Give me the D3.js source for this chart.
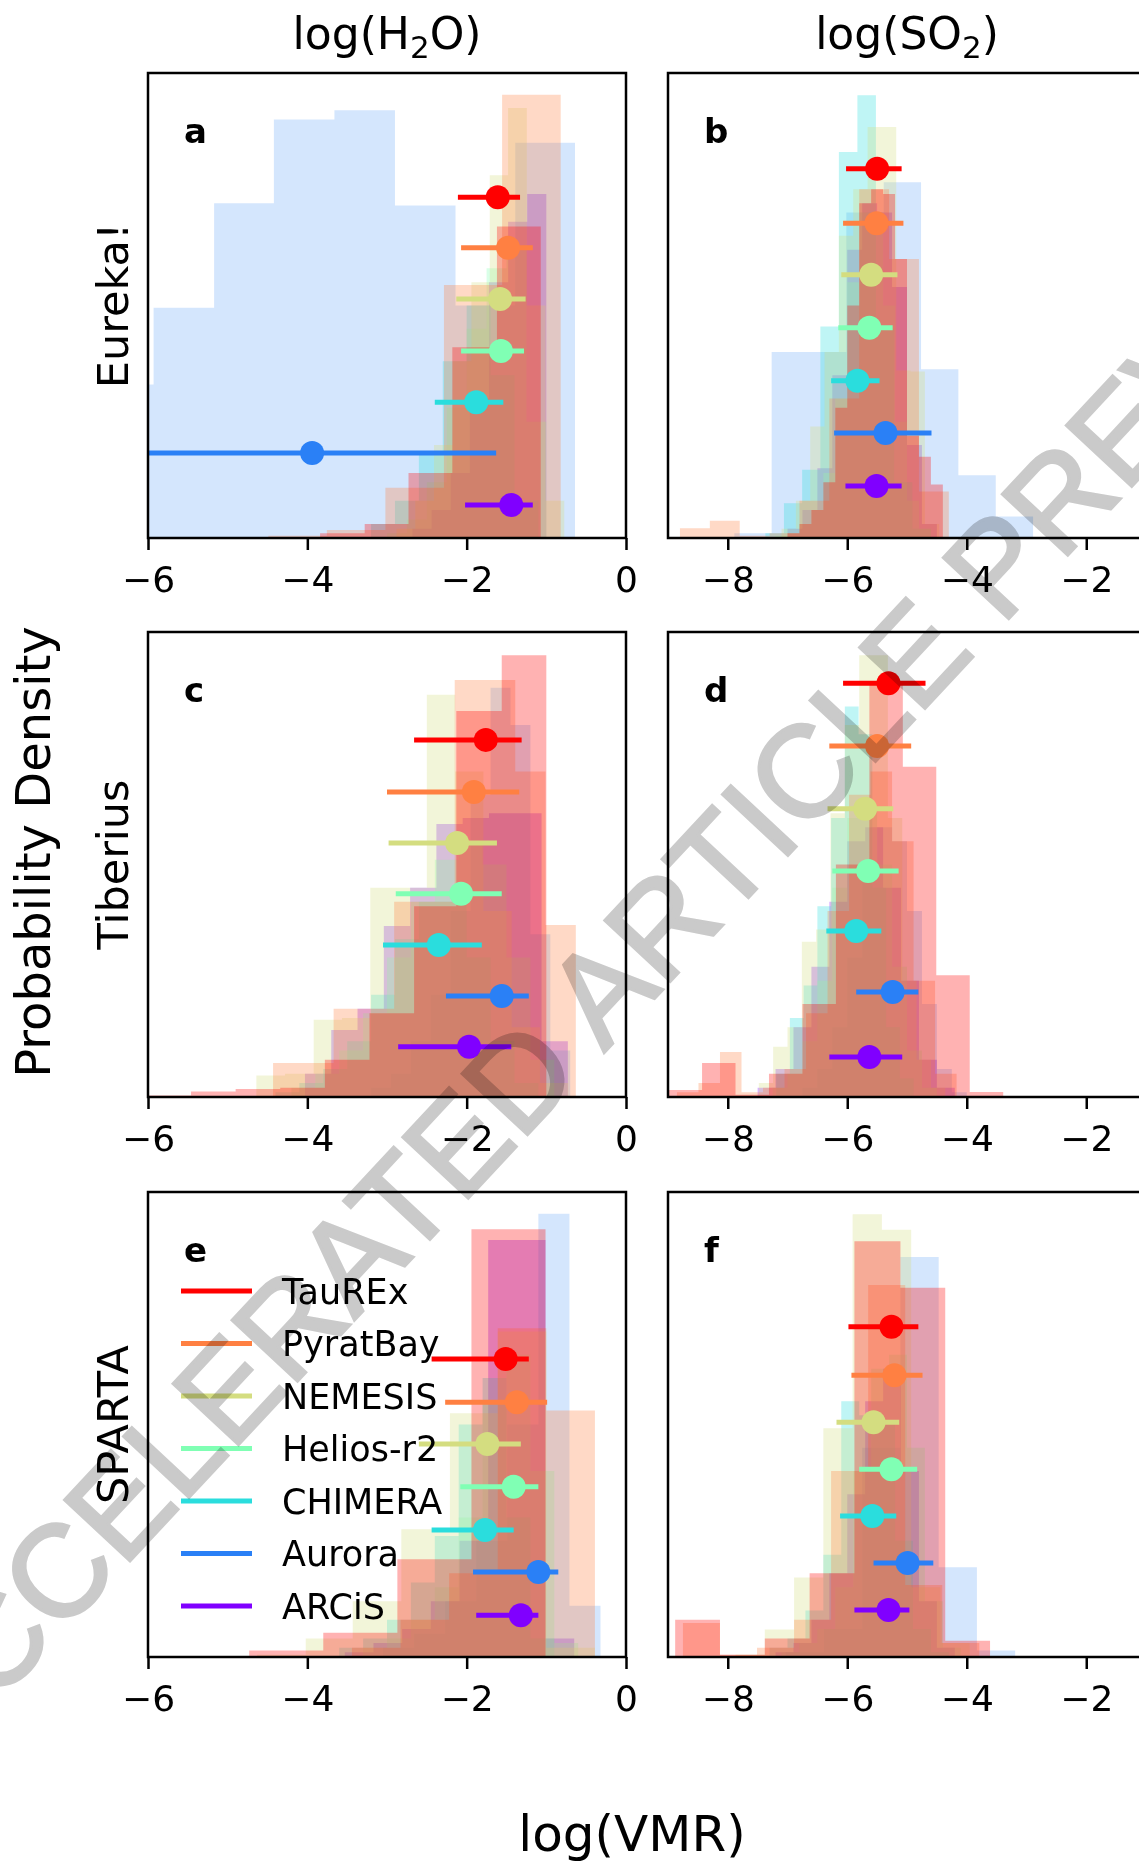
<!DOCTYPE html>
<html>
<head>
<meta charset="utf-8">
<script src="https://cdn.jsdelivr.net/npm/d3@7"></script>
<style>
  body { margin: 0; background: #fff; }
</style>
</head>
<body>
<div id="chart"></div>
<script>
// retrievals, drawn as histograms + median/1-sigma error bars
var retrievals = ["TauREx", "PyratBay", "NEMESIS", "Helios-r2", "CHIMERA", "Aurora", "ARCiS"];
var colors = ["#ff0000", "#ff8042", "#d4dd80", "#80ffb4", "#2adddd", "#2a80f6", "#8000ff"];
var histAlpha = [0.3, 0.3, 0.3, 0.3, 0.3, 0.2, 0.3];
var reductions = ["Eureka!", "Tiberius", "SPARTA"];
var letters = ["a", "b", "c", "d", "e", "f"];
var h2oTicks = [-6, -4, -2, 0];
var so2Ticks = [-8, -6, -4, -2];

// ---- panel a : H2O, Eureka! ----
var edgesA = [
  [-3.84, -3.28, -2.73, -2.18, -1.62, -1.07],
  [-4.49, -3.755, -3.02, -2.285, -1.555, -0.82],
  [-2.88, -2.645, -2.41, -2.175, -1.94, -1.71, -1.48, -1.245, -1.01, -0.775],
  [-3.0, -2.75, -2.5, -2.25, -2.0, -1.75, -1.5, -1.25, -1.0],
  [-3.2, -2.9, -2.6, -2.3, -2.0, -1.7, -1.4, -1.1],
  [-6.69, -5.93, -5.17, -4.42, -3.66, -2.90, -2.14, -1.39, -0.64],
  [-2.68, -2.44, -2.2, -1.96, -1.72, -1.48, -1.24, -1.0]
];
var densA = [
  [1, 3, 14, 41, 67],
  [0.5, 1.7, 10.8, 54.4, 95.3],
  [2, 8, 20, 38, 55, 78, 92.5, 50, 8],
  [1, 4, 12, 28, 45, 58, 62, 25],
  [3, 8, 18, 38, 50, 35, 8],
  [33, 49.5, 72, 90, 92, 71.5, 50, 85],
  [2, 6, 14, 30, 55, 68, 74]
];
// median, lower, upper
var errA = [[-1.61, -2.11, -1.33], [-1.48, -2.07, -1.17], [-1.58, -2.13, -1.26], [-1.57, -2.07, -1.28],
            [-1.88, -2.40, -1.54], [-3.94, -6.5, -1.63], [-1.44, -2.02, -1.17]];
var levelA = [73.3, 62.4, 51.4, 40.2, 29.2, 18.3, 7.1];

// ---- panel b : SO2, Eureka! ----
var edgesB = [
  [-7.0, -6.8, -6.6, -6.4, -6.2, -6.0, -5.8, -5.6, -5.4, -5.2, -5.0, -4.8, -4.6, -4.4],
  [-8.8, -8.3, -7.8, -7.3, -6.8, -6.3, -5.8, -5.3, -4.8, -4.3],
  [-7.1, -6.86, -6.62, -6.38, -6.14, -5.90, -5.66, -5.42, -5.18, -4.94, -4.70, -4.46],
  [-7.2, -7.0, -6.8, -6.6, -6.4, -6.2, -6.0, -5.8, -5.6, -5.4, -5.2, -5.0, -4.8, -4.6],
  [-7.37, -7.06, -6.755, -6.45, -6.14, -5.83, -5.52, -5.215, -4.91, -4.60],
  [-7.89, -7.265, -6.64, -6.015, -5.39, -4.765, -4.14, -3.515, -2.89],
  [-7.0, -6.75, -6.5, -6.25, -6.0, -5.75, -5.5, -5.25, -5.0, -4.75, -4.5]
];
var densB = [
  [1, 3, 6, 12, 28, 50, 72, 75, 74, 60, 22, 17.5, 11.5],
  [2.1, 3.7, 0.5, 1, 8, 30, 75, 60, 10],
  [2, 8, 24, 40, 65, 75, 88.4, 88.4, 36, 35.8, 3],
  [0.5, 1, 3, 6, 14, 30, 55, 70, 70, 50, 25, 8, 2],
  [1, 7.5, 14.7, 45.5, 83, 95.2, 45, 12, 2],
  [1, 40, 40, 70, 76.5, 36.3, 13.5, 4.6],
  [2, 6, 15, 35, 62, 72, 70, 54, 20, 3]
];
var errB = [[-5.50, -6.02, -5.09], [-5.51, -6.07, -5.06], [-5.60, -6.10, -5.16], [-5.63, -6.15, -5.24],
            [-5.83, -6.27, -5.46], [-5.36, -6.22, -4.59], [-5.51, -6.03, -5.09]];
var levelB = [79.4, 67.7, 56.6, 45.2, 33.8, 22.6, 11.2];

// ---- panel c : H2O, Tiberius ----
var edgesC = [
  [-6.02, -5.46, -4.90, -4.34, -3.78, -3.22, -2.66, -2.13, -1.56, -1.0],
  [-4.43, -4.05, -3.67, -3.29, -2.91, -2.53, -2.15, -1.77, -1.39, -1.01, -0.63],
  [-4.64, -4.28, -3.92, -3.565, -3.21, -2.855, -2.50, -2.145, -1.79, -1.435, -1.08, -0.725],
  [-4.2, -3.9, -3.6, -3.3, -3.0, -2.7, -2.4, -2.1, -1.8, -1.5, -1.2, -0.9],
  [-4.4, -4.1, -3.8, -3.5, -3.2, -2.9, -2.6, -2.3, -2.0, -1.7, -1.4, -1.1],
  [-3.2, -2.95, -2.7, -2.45, -2.2, -1.95, -1.7, -1.45, -1.2, -0.95, -0.7],
  [-4.03, -3.70, -3.37, -3.04, -2.71, -2.38, -2.05, -1.72, -1.39, -1.06, -0.73]
];
var densC = [
  [0.3, 1.2, 1.7, 2, 8, 18, 41, 83, 95],
  [7.3, 7.3, 19, 19, 42, 42, 89.7, 89.7, 70, 37],
  [4.6, 5, 16.6, 17, 45, 45, 86.5, 70, 40, 15, 3],
  [2, 5, 10, 18, 30, 42, 51, 55, 50, 30, 8],
  [1, 3, 6, 12, 22, 34, 42, 42, 30, 12, 3],
  [2, 5, 12, 22, 40, 65, 88, 80, 35, 10],
  [5, 14.4, 19, 36.8, 45, 58.7, 60, 61, 61, 12]
];
var errC = [[-1.76, -2.66, -1.31], [-1.91, -3.00, -1.34], [-2.12, -2.98, -1.62], [-2.07, -2.89, -1.56],
            [-2.35, -3.05, -1.81], [-1.56, -2.26, -1.22], [-1.97, -2.86, -1.44]];
var levelC = [76.8, 65.6, 54.6, 43.7, 32.7, 21.7, 10.8];

// ---- panel d : SO2, Tiberius ----
var edgesD = [
  [-8.99, -8.43, -7.87, -7.31, -6.75, -6.19, -5.63, -5.07, -4.51, -3.95, -3.39],
  [-8.85, -8.49, -8.13, -7.77, -7.41, -7.05, -6.69, -6.33, -5.97, -5.61, -5.25, -4.89, -4.53, -4.17],
  [-7.48, -7.24, -7.00, -6.76, -6.52, -6.28, -6.04, -5.80, -5.56, -5.32, -5.08, -4.84, -4.60, -4.36],
  [-7.25, -7.0, -6.75, -6.5, -6.25, -6.0, -5.75, -5.5, -5.25, -5.0, -4.75, -4.5],
  [-7.19, -6.96, -6.73, -6.50, -6.27, -6.04, -5.81, -5.58, -5.35, -5.12, -4.89],
  [-6.75, -6.5, -6.25, -6.0, -5.75, -5.5, -5.25, -5.0, -4.75, -4.5, -4.25, -4.0],
  [-7.5, -7.2, -6.9, -6.6, -6.3, -6.0, -5.7, -5.4, -5.1, -4.8, -4.5, -4.2]
];
var densD = [
  [1.5, 7.3, 0.5, 5, 20, 50, 89, 71, 26.2, 1.1],
  [1, 3, 9.7, 1, 2, 6, 18, 40, 65, 70, 55, 25, 5],
  [3, 10.8, 15, 33.4, 36, 61, 80, 95, 95, 60, 25, 8, 2],
  [2, 5, 12, 25, 45, 60, 62, 50, 28, 10, 2],
  [5, 17, 24, 41, 60, 84, 78, 45, 15, 4],
  [2, 6, 15, 30, 48, 58, 55, 40, 20, 6, 1],
  [2, 6, 15, 28, 42, 55, 58, 45, 25, 8, 2]
];
var errD = [[-5.31, -6.07, -4.69], [-5.50, -6.30, -4.93], [-5.70, -6.33, -5.23], [-5.65, -6.25, -5.14],
            [-5.85, -6.35, -5.43], [-5.24, -5.85, -4.81], [-5.63, -6.30, -5.08]];
var levelD = [89.0, 75.5, 62.0, 48.6, 35.7, 22.6, 8.6];

// ---- panel e : H2O, SPARTA ----
var edgesE = [
  [-4.73, -3.80, -2.87, -1.94, -1.01],
  [-3.44, -2.83, -2.22, -1.61, -1.00, -0.39],
  [-4.63, -4.02, -3.43, -2.82, -2.21, -1.61, -1.00, -0.39],
  [-3.3, -3.0, -2.7, -2.4, -2.1, -1.8, -1.5, -1.2, -0.9, -0.6],
  [-3.6, -3.3, -3.0, -2.7, -2.4, -2.1, -1.8, -1.5, -1.2, -0.9],
  [-3.05, -2.66, -2.27, -1.88, -1.49, -1.10, -0.71, -0.32],
  [-3.53, -3.17, -2.81, -2.45, -2.09, -1.73, -1.37, -1.01, -0.65]
];
var densE = [
  [1.4, 5.2, 21, 92],
  [2, 8, 18, 70.7, 53],
  [0.5, 4, 12, 27.5, 52.4, 70, 2],
  [2, 4, 8, 15, 30, 55, 65, 40, 3],
  [2, 4, 8, 16, 26, 50, 60, 30, 4],
  [2, 5, 12, 25, 50, 95.3, 11],
  [1, 3, 6, 12, 25, 89.7, 89.7, 4]
];
var errE = [[-1.51, -2.44, -1.22], [-1.37, -2.27, -0.99], [-1.74, -2.60, -1.32], [-1.41, -2.08, -1.10],
            [-1.77, -2.44, -1.41], [-1.10, -1.92, -0.85], [-1.32, -1.88, -1.10]];
var levelE = [64.1, 54.8, 45.8, 36.6, 27.3, 18.3, 9.0];

// ---- panel f : SO2, SPARTA ----
var edgesF = [
  [-8.88, -8.13, -7.38, -6.63, -5.88, -5.11, -4.36, -3.61],
  [-8.75, -8.13, -7.51, -6.89, -6.27, -5.65, -5.03, -4.41, -3.79],
  [-7.87, -7.38, -6.89, -6.40, -5.91, -5.42, -4.93, -4.44, -3.95],
  [-7.1, -6.8, -6.5, -6.2, -5.9, -5.6, -5.3, -5.0, -4.7, -4.4, -4.1],
  [-7.3, -7.0, -6.7, -6.4, -6.1, -5.8, -5.5, -5.2, -4.9, -4.6, -4.3],
  [-7.03, -6.39, -5.75, -5.11, -4.47, -3.83, -3.19],
  [-7.2, -6.9, -6.6, -6.3, -6.0, -5.7, -5.4, -5.1, -4.8, -4.5, -4.2]
];
var densF = [
  [8, 0.5, 4, 18, 89.4, 79.4, 3.5],
  [7.3, 0.5, 2, 8, 40, 80, 15.5, 3],
  [0.5, 5.9, 17.1, 49.2, 95.2, 91.9, 15, 3],
  [1, 3, 6, 15, 40, 62, 65, 45, 12, 2],
  [2, 4, 10, 22, 55, 52, 50, 25, 6, 1],
  [1, 6, 45, 86, 19.3, 1.4],
  [1, 3, 8, 18, 35, 55, 62, 40, 12, 2]
];
var errF = [[-5.26, -5.98, -4.81], [-5.21, -5.93, -4.74], [-5.56, -6.18, -5.13], [-5.26, -5.80, -4.83],
            [-5.58, -6.12, -5.18], [-4.99, -5.56, -4.56], [-5.31, -5.88, -4.96]];
var levelF = [71.0, 60.6, 50.5, 40.4, 30.3, 20.2, 10.1];

var panels = [
  {edges: edgesA, dens: densA, err: errA, level: levelA},
  {edges: edgesB, dens: densB, err: errB, level: levelB},
  {edges: edgesC, dens: densC, err: errC, level: levelC},
  {edges: edgesD, dens: densD, err: errD, level: levelD},
  {edges: edgesE, dens: densE, err: errE, level: levelE},
  {edges: edgesF, dens: densF, err: errF, level: levelF}
];

// layout
var W = 1139, H = 1863;
var font = "DejaVu Sans";
var colX = [[148, 626], [668, 1146]];
var rowY = [[73, 538], [632, 1097], [1192, 1657]];
var xDomains = [[-6, 0], [-9, -1]];
var xTicks = [h2oTicks, so2Ticks];

var svg = d3.select("#chart").append("svg")
    .attr("width", W)
    .attr("height", H)
    .style("background", "#fff");

panels.forEach(function(p, i) {
  var row = Math.floor(i / 2), col = i % 2;
  var x0 = colX[col][0], x1 = colX[col][1], y0 = rowY[row][0], y1 = rowY[row][1];
  var x = d3.scaleLinear().domain(xDomains[col]).range([x0, x1]);
  var y = d3.scaleLinear().domain([0, 100]).range([y1, y0]);

  svg.append("clipPath").attr("id", "clip" + i)
    .append("rect").attr("x", x0).attr("y", y0).attr("width", x1 - x0).attr("height", y1 - y0);

  var g = svg.append("g");
  var plot = g.append("g").attr("clip-path", "url(#clip" + i + ")");

  var area = d3.area()
      .curve(d3.curveStepAfter)
      .x(function(d) { return x(d[0]); })
      .y0(y(0))
      .y1(function(d) { return y(d[1]); });

  // last retrieval first, TauREx on top
  for (var k = retrievals.length - 1; k >= 0; k--) {
    var e = p.edges[k], h = p.dens[k];
    var pts = h.map(function(v, j) { return [e[j], v]; });
    pts.push([e[e.length - 1], h[h.length - 1]]);
    plot.append("path")
      .attr("d", area(pts))
      .attr("fill", colors[k])
      .attr("fill-opacity", histAlpha[k]);
  }

  p.err.forEach(function(d, k) {
    plot.append("line")
      .attr("x1", x(d[1])).attr("x2", x(d[2]))
      .attr("y1", y(p.level[k])).attr("y2", y(p.level[k]))
      .attr("stroke", colors[k])
      .attr("stroke-width", 5);
    plot.append("circle")
      .attr("cx", x(d[0]))
      .attr("cy", y(p.level[k]))
      .attr("r", 12)
      .attr("fill", colors[k]);
  });

  g.append("rect")
    .attr("x", x0).attr("y", y0)
    .attr("width", x1 - x0).attr("height", y1 - y0)
    .attr("fill", "none")
    .attr("stroke", "#000")
    .attr("stroke-width", 2.5);

  var ax = g.append("g")
      .attr("transform", "translate(0," + y1 + ")")
      .call(d3.axisBottom(x).tickValues(xTicks[col]).tickFormat(d3.format("d"))
              .tickSize(12).tickPadding(16));
  ax.select(".domain").remove();
  ax.selectAll("line").attr("stroke", "#000").attr("stroke-width", 2.5);
  ax.selectAll("text")
    .attr("font-family", font)
    .attr("font-size", 36)
    .attr("fill", "#000");

  g.append("text")
    .attr("x", x0 + 36)
    .attr("y", y0 + 70)
    .attr("font-family", font)
    .attr("font-weight", "bold")
    .attr("font-size", 34)
    .text(letters[i]);

  // legend in panel e
  if (i == 4) {
    retrievals.forEach(function(name, k) {
      var ly = 1291 + k * 52.5;
      g.append("line")
        .attr("x1", 181).attr("x2", 252)
        .attr("y1", ly).attr("y2", ly)
        .attr("stroke", colors[k])
        .attr("stroke-width", 5);
      g.append("text")
        .attr("x", 282)
        .attr("y", ly + 12.5)
        .attr("font-family", font)
        .attr("font-size", 35)
        .text(name);
    });
  }
});

// column titles
var titles = [["log(H", "2", "O)"], ["log(SO", "2", ")"]];
titles.forEach(function(t, col) {
  var txt = svg.append("text")
      .attr("x", (colX[col][0] + colX[col][1]) / 2)
      .attr("y", 49)
      .attr("text-anchor", "middle")
      .attr("font-family", font)
      .attr("font-size", 44);
  txt.append("tspan").text(t[0]);
  txt.append("tspan").attr("font-size", 31).attr("dy", 9).text(t[1]);
  txt.append("tspan").attr("dy", -9).text(t[2]);
});

// row labels
reductions.forEach(function(name, row) {
  var cy = (rowY[row][0] + rowY[row][1]) / 2;
  svg.append("text")
    .attr("transform", "translate(128," + cy + ") rotate(-90)")
    .attr("text-anchor", "middle")
    .attr("font-family", font)
    .attr("font-size", 43)
    .text(name);
});

svg.append("text")
  .attr("transform", "translate(50,852) rotate(-90)")
  .attr("text-anchor", "middle")
  .attr("font-family", font)
  .attr("font-size", 48)
  .text("Probability Density");

svg.append("text")
  .attr("x", 632)
  .attr("y", 1851)
  .attr("text-anchor", "middle")
  .attr("font-family", font)
  .attr("font-size", 50)
  .text("log(VMR)");

// watermark
svg.append("text")
  .attr("transform", "translate(640,948) rotate(-47)")
  .attr("text-anchor", "middle")
  .attr("dominant-baseline", "central")
  .attr("font-family", "Liberation Sans")
  .attr("font-size", 130)
  .attr("fill", "#cacaca")
  .attr("stroke", "#cacaca")
  .attr("stroke-width", 3)
  .style("mix-blend-mode", "multiply")
  .text("ACCELERATED ARTICLE PREVIEW");
</script>
</body>
</html>
